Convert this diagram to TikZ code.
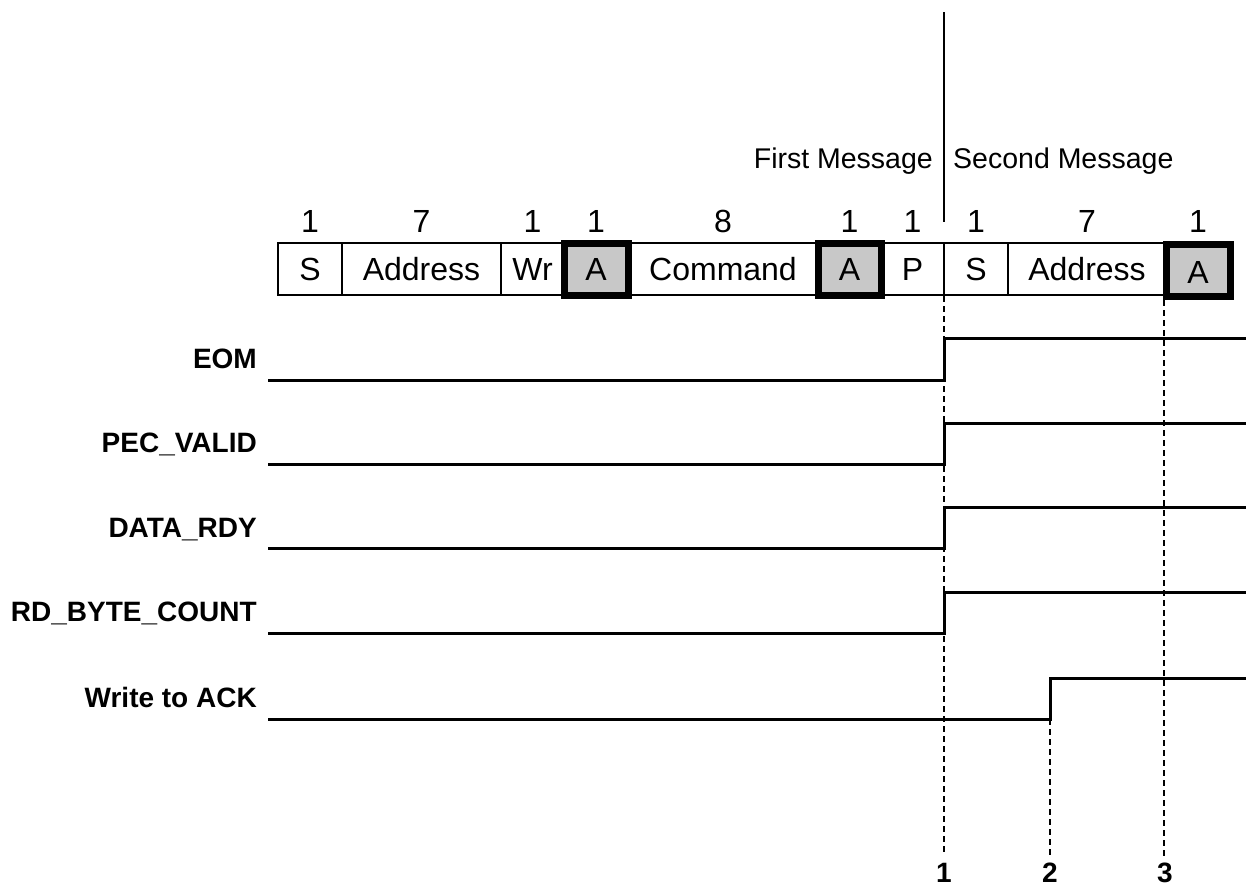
\documentclass[tikz,border=0pt]{standalone}
\usepackage{fontspec}
\setmainfont{Liberation Sans}
\begin{document}
\begin{tikzpicture}[x=1pt,y=-1pt,
  cell/.style={draw, line width=1.5pt, minimum height=52pt, inner sep=0pt, text height=22pt, text depth=0pt, font=\fontsize{32}{32}\selectfont},
  ackcell/.style={cell, fill=ackgray, line width=7pt},
  bits/.style={anchor=base, inner sep=0pt, font=\fontsize{32}{32}\selectfont},
  msg/.style={inner sep=0pt, font=\fontsize{28.5}{28.5}\selectfont},
  siglabel/.style={anchor=base east, inner sep=0pt, font=\fontsize{28}{28}\selectfont\bfseries},
  sig/.style={line width=3pt, line join=miter},
  guide/.style={line width=2pt, dash pattern=on 6pt off 4pt},
  marknum/.style={anchor=base, inner sep=0pt, font=\fontsize{28}{28}\selectfont\bfseries}
]
\definecolor{ackgray}{RGB}{200,200,200}
\useasboundingbox (0,0) rectangle (1246,886);

% message separator
\draw[line width=1.5pt] (944,12) -- (944,222);
\node[msg, anchor=base east] (first) at (933,168) {First Message};
\node[msg, anchor=base west] (second) at (953,168) {Second Message};

% frame cells
\node[cell, minimum width=64pt] (s1) at (310,269) {S};
\node[cell, minimum width=159pt] (ad1) at (421.5,269) {Address};
\node[cell, minimum width=63pt] (wr) at (532.5,269) {Wr};
\node[cell, minimum width=190pt] (cmd) at (723,269) {Command};
\node[cell, minimum width=63pt] (p) at (912.5,269) {P};
\node[cell, minimum width=64pt] (s2) at (976,269) {S};
\node[cell, minimum width=158pt] (ad2) at (1087,269) {Address};
\node[ackcell, minimum width=64pt] (a1) at (596,269) {A};
\node[ackcell, minimum width=63pt] (a2) at (849.5,269) {A};
\node[ackcell, minimum width=64pt, text height=26pt] (a3) at (1198,270.5) {A};

% bit counts
\node[bits] (b1) at (310,232) {1};
\node[bits] (b2) at (421.5,232) {7};
\node[bits] (b3) at (532.5,232) {1};
\node[bits] (b4) at (596,232) {1};
\node[bits] (b5) at (723,232) {8};
\node[bits] (b6) at (849.5,232) {1};
\node[bits] (b7) at (912.5,232) {1};
\node[bits] (b8) at (976,232) {1};
\node[bits] (b9) at (1087,232) {7};
\node[bits] (b10) at (1198,232) {1};

% signal labels
\node[siglabel] (eom) at (257,368) {EOM};
\node[siglabel] (pec) at (257,452) {PEC\_VALID};
\node[siglabel] (rdy) at (257,537) {DATA\_RDY};
\node[siglabel] (cnt) at (257,621) {RD\_BYTE\_COUNT};
\node[siglabel] (ack) at (257,707) {Write to ACK};

% guide marks
\node[marknum] (m1) at (944,882) {1};
\node[marknum] (m2) at (1050,882) {2};
\node[marknum] (m3) at (1165,882) {3};
\coordinate (g1top) at (944,296);
\coordinate (g1bot) at (944,853);
\coordinate (g2top) at (1050,719);
\coordinate (g2bot) at (1050,857);
\coordinate (g3top) at (1164,300);
\coordinate (g3bot) at (1164,857);
\draw[guide] (g1top) -- (g1bot);
\draw[guide] (g2top) -- (g2bot);
\draw[guide] (g3top) -- (g3bot);

% waveforms
\draw[sig] (268,380) -- (944,380) -- (944,338) -- (1246,338);
\draw[sig] (268,464) -- (944,464) -- (944,423) -- (1246,423);
\draw[sig] (268,548) -- (944,548) -- (944,507) -- (1246,507);
\draw[sig] (268,633) -- (944,633) -- (944,592) -- (1246,592);
\draw[sig] (268,719) -- (1050,719) -- (1050,678) -- (1246,678);
\end{tikzpicture}
\end{document}
